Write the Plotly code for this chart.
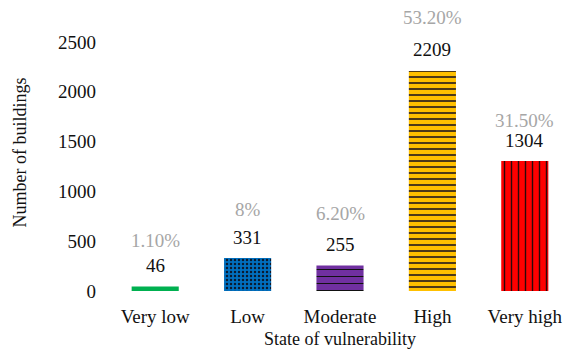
import plotly.graph_objects as go

categories = ["Very low", "Low", "Moderate", "High", "Very high"]
counts = [46, 331, 255, 2209, 1304]
percents = ["1.10%", "8%", "6.20%", "53.20%", "31.50%"]
colors = ["#00B050", "#0070C0", "#7030A0", "#FFC000", "#FF0000"]
shapes = ["", ".", "-", "-", "|"]
pat_fg = ["#00B050", "#0A1A30", "#111111", "#3A2A1A", "#2A0A0A"]
pat_size = [6, 4, 7, 6, 7]
pat_sol = [0.0, 0.3, 0.15, 0.3, 0.2]
pct_gap = [25, 28, 31, 32, 20]

font = "Liberation Serif"

fig = go.Figure()
for c, v, col, shp, fg, sz, sol in zip(categories, counts, colors, shapes, pat_fg, pat_size, pat_sol):
    fig.add_trace(go.Bar(
        x=[c], y=[v],
        marker=dict(color=col, line=dict(width=0),
                    pattern=dict(shape=shp, fgcolor=fg, bgcolor=col, fgopacity=1,
                                 size=sz, solidity=sol, fillmode="overlay")),
        width=0.51,
    ))

for c, v, p, g in zip(categories, counts, percents, pct_gap):
    fig.add_annotation(x=c, y=v, text=str(v), showarrow=False, yanchor="middle",
                       yshift=21, font=dict(family=font, size=19, color="#111111"))
    fig.add_annotation(x=c, y=v, text=p, showarrow=False, yanchor="middle",
                       yshift=21 + g, font=dict(family=font, size=19, color="#A6A6A6"))

fig.update_layout(
    width=571, height=354,
    margin=dict(l=109, r=0, t=14, b=63),
    paper_bgcolor="white", plot_bgcolor="white",
    showlegend=False,
    barmode="overlay",
    font=dict(family=font, size=19, color="#111111"),
    xaxis=dict(showline=False, showgrid=False, ticks="", ticklabelstandoff=12,
               categoryorder="array", categoryarray=categories,
               tickfont=dict(family=font, size=19),
               title=dict(text="State of vulnerability", font=dict(family=font, size=18), standoff=6)),
    yaxis=dict(range=[0, 2780], tickvals=[0, 500, 1000, 1500, 2000, 2500],
               showline=False, showgrid=False, zeroline=False, ticks="", ticklabelstandoff=12,
               tickfont=dict(family=font, size=19),
               title=dict(text="Number of buildings", font=dict(family=font, size=18), standoff=26)),
)

fig.write_html("out.html")
